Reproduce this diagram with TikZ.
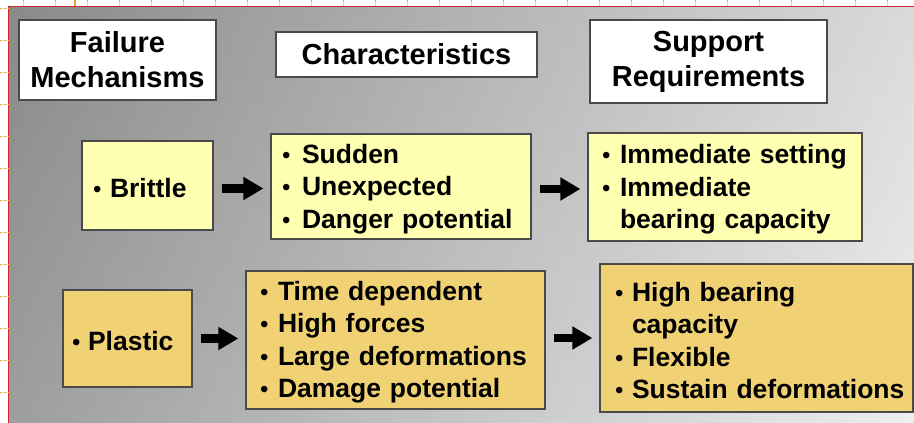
\documentclass[tikz,border=0pt]{standalone}
\usepackage{fontspec}
\setmainfont{Liberation Sans}
\usetikzlibrary{arrows.meta}
\definecolor{lightyel}{HTML}{FFFFB2}
\definecolor{goldyel}{HTML}{F0D174}
\definecolor{boxline}{HTML}{4A4A4A}
\definecolor{bgdark}{HTML}{969696}
\definecolor{bglight}{HTML}{EDEDED}
\definecolor{rulered}{HTML}{CC2A2A}
\definecolor{tickorange}{HTML}{F5A623}
\newcommand{\bul}[1][18pt]{\makebox[#1][l]{\fontsize{24}{24}\selectfont\mdseries •}}
\begin{document}
\hyphenpenalty=10000
\exhyphenpenalty=10000
\begin{tikzpicture}[x=1pt,y=-1pt,
  hdr/.style={draw=boxline, line width=1.3pt, fill=white, inner sep=0pt,
    font=\fontsize{29}{35}\selectfont\bfseries, align=center},
  ybox/.style={draw=boxline, line width=1.3pt, inner ysep=0pt, align=left,
    font=\fontsize{26.5}{32.5}\selectfont\bfseries,
    execute at begin node={\rule{0pt}{24pt}}},
  blk/.style={line width=8.5pt, -{Triangle[length=20pt,width=22pt]},
    shorten <=8pt, shorten >=7pt}]
\useasboundingbox (0,0) rectangle (914,423);
\fill[white] (0,0) rectangle (914,423);
% slide background
\shade[left color=bgdark, right color=bglight] (8,6.5) rectangle (914,423);
\shade[top color=black, bottom color=white, fill opacity=0.08] (8,6.5) rectangle (914,423);
% ruler marks
\draw[rulered, line width=1pt] (8,423) -- (8,6.5) -- (914,6.5);
\foreach \x in {23,55,...,887}
  \draw[tickorange, line width=0.9pt, dash pattern=on 1.6pt off 1pt] (\x,0) -- (\x,6);
\draw[tickorange, line width=1.6pt] (75,0) -- (75,6);
\foreach \y in {8,40,...,392}
  \draw[tickorange, line width=0.9pt, dash pattern=on 1.6pt off 1pt] (0,\y) -- (8,\y);
% headers
\node[hdr, minimum width=197pt, minimum height=80pt] (h1) at (117.5,60) {Failure\\Mechanisms};
\node[hdr, minimum width=261pt, minimum height=45pt] (h2) at (406.5,54.5) {Characteristics};
\node[hdr, minimum width=237pt, minimum height=83pt] (h3) at (708.5,61.5) {Support\\Requirements};
% brittle row
\node[ybox, fill=lightyel, inner xsep=11pt, text width=109pt, minimum height=89pt] (b1) at (147.5,185.5)
  {\bul[17pt]Brittle};
\node[ybox, fill=lightyel, inner xsep=11pt, text width=238pt, minimum height=105pt] (b2) at (401,186.5)
  {\bul[20pt]Sudden\\\bul[20pt]Unexpected\\\bul[20pt]Danger~potential};
\node[ybox, fill=lightyel, inner xsep=14pt, text width=246pt, minimum height=108pt] (b3) at (725,187)
  {\bul Immediate~setting\\\bul Immediate\\\hspace*{18pt}bearing~capacity};
% plastic row
\node[ybox, fill=goldyel, inner xsep=9pt, text width=111pt, minimum height=97pt] (p1) at (127.5,338.5)
  {\bul[16pt]Plastic};
\node[ybox, fill=goldyel, inner xsep=14pt, text width=271pt, minimum height=138pt] (p2) at (395.5,340)
  {\bul Time~dependent\\\bul High~forces\\\bul Large~deformations\\\bul Damage~potential};
\node[ybox, fill=goldyel, inner xsep=15pt, text width=283pt, minimum height=148pt] (p3) at (756.5,338)
  {\bul[17pt]High~bearing\\\hspace*{17pt}capacity\\\bul[17pt]Flexible\\\bul[17pt]\mbox{Sustain deformations}};
% arrows
\draw[blk] ([yshift=-3pt]b1.east) -- ([yshift=-3pt]b1.east -| b2.west);
\draw[blk] ([yshift=-2.5pt]b2.east) -- ([yshift=-2.5pt]b2.east -| b3.west);
\draw[blk] (p1.east) -- (p1.east -| p2.west);
\draw[blk] ([yshift=2pt]p2.east) -- ([yshift=2pt]p2.east -| p3.west);
\end{tikzpicture}
\end{document}
